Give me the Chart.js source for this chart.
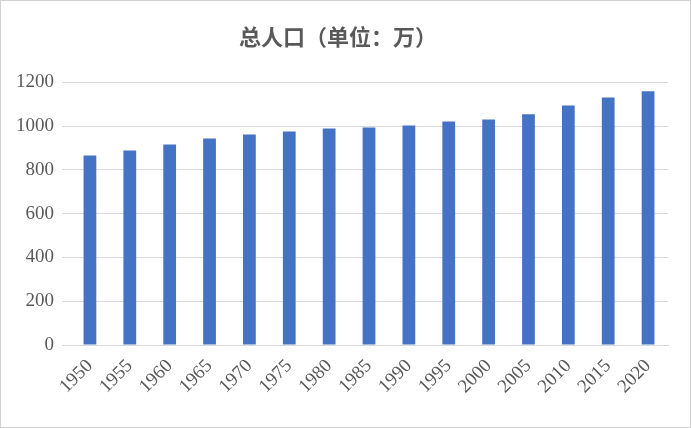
<!DOCTYPE html>
<html><head><meta charset="utf-8">
<script src="https://cdn.jsdelivr.net/npm/chart.js@4"></script>
<style>
body{margin:0;background:#fff}
#wrap{position:relative;width:689px;height:426px;border:1px solid #d0d0d0;background:#fff}
</style></head><body>
<div id="wrap"><canvas id="c" width="689" height="426"></canvas></div>
<script>
const years = ['1950','1955','1960','1965','1970','1975','1980','1985','1990','1995','2000','2005','2010','2015','2020'];
const population = [866, 889, 916, 944, 962, 976, 989, 994, 1003, 1021, 1031, 1054, 1095, 1131, 1159];
const yTicks = [0, 200, 400, 600, 800, 1000, 1200];

new Chart(document.getElementById('c'), {
    type: 'bar',
    data: {
        labels: years,
        datasets: [{ data: population, backgroundColor: '#4472c4', categoryPercentage: 1, barPercentage: 0.32 }]
    },
    options: {
        responsive: false,
        animation: false,
        layout: { padding: { left: 7, right: 22, top: 14, bottom: 27 } },
        plugins: {
            legend: { display: false },
            title: { display: true, text: '总人口（单位：万）', color: '#595959',
                font: { family: 'Noto Sans CJK SC', size: 22, weight: 'bold' }, padding: { top: 8, bottom: 33 } }
        },
        scales: {
            x: {
                grid: { display: false },
                border: { color: '#d9d9d9' },
                ticks: { color: '#595959', maxRotation: 45, minRotation: 45, padding: 2,
                    font: { family: 'Liberation Serif', size: 19 } }
            },
            y: {
                min: 0, max: 1200,
                afterBuildTicks: s => { s.ticks = yTicks.map(v => ({ value: v })); },
                grid: { color: '#d9d9d9' },
                border: { display: false },
                ticks: { color: '#595959', padding: 8, callback: v => String(v),
                    font: { family: 'Liberation Serif', size: 19 } }
            }
        }
    }
});
</script>
</body></html>
